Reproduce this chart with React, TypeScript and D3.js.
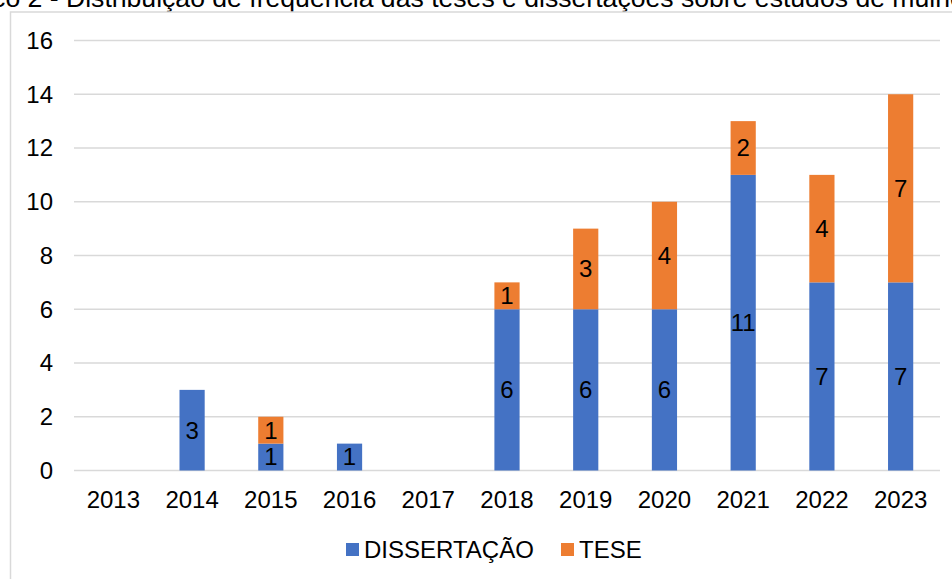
import React from "react";
import * as d3 from "d3";

const years = ["2013", "2014", "2015", "2016", "2017", "2018", "2019", "2020", "2021", "2022", "2023"];
const dissertacao = [0, 3, 1, 1, 0, 6, 6, 6, 11, 7, 7];
const tese = [0, 0, 1, 0, 0, 1, 3, 4, 2, 4, 7];
const seriesNames = ["DISSERTAÇÃO", "TESE"];
const seriesColors = ["#4472C4", "#ED7D31"];
const yTicks = [0, 2, 4, 6, 8, 10, 12, 14, 16];
const titlePrefix = "Gráfico 2 -";
const titleMain = "Distribuição de frequência das teses e dissertações sobre estudos de mulheres";

export default function App() {
  const W = 952, H = 579;
  const x = d3.scaleBand().domain(years).range([74, 940]).paddingInner(0.68).paddingOuter(0.34);
  const y = d3.scaleLinear().domain([0, 16]).range([470.5, 40.5]);
  const rows = years.map((yr, i) => ({ yr, DISSERTAÇÃO: dissertacao[i], TESE: tese[i] }));
  const stack = d3.stack<any>().keys(seriesNames)(rows);
  const font = "'Liberation Sans', Arial, sans-serif";
  const fs = 24;
  return (
    <svg width={W} height={H} style={{ position: "fixed", left: 0, top: 0, background: "#fff" }} fontFamily={font}>
      <rect x={0} y={0} width={W} height={H} fill="#fff" />
      <text x={58.6} y={7} fontSize={26.6} textAnchor="end" fill="#000">{titlePrefix}</text>
      <text x={66} y={7} fontSize={26.6} fill="#000">{titleMain}</text>
      <rect x={10.5} y={12} width={1000} height={700} fill="none" stroke="#d9d9d9" strokeWidth={1.5} />
      {yTicks.map(t => (
        <g key={t}>
          <line x1={74} x2={940} y1={y(t)} y2={y(t)} stroke="#d9d9d9" strokeWidth={1.5} />
          <text x={53} y={y(t)} dy="0.35em" textAnchor="end" fontSize={fs} fill="#000">{t}</text>
        </g>
      ))}
      {stack.map((s, si) => (
        <g key={s.key}>
          {s.map((d, i) => {
            const v = d[1] - d[0];
            if (v <= 0) return null;
            const bx = x(years[i])!;
            return (
              <g key={i}>
                <rect x={bx} y={y(d[1])} width={x.bandwidth()} height={y(d[0]) - y(d[1])} fill={seriesColors[si]} />
                <text x={bx + x.bandwidth() / 2} y={(y(d[0]) + y(d[1])) / 2} dy="0.35em" textAnchor="middle" fontSize={fs} fill="#000">{v}</text>
              </g>
            );
          })}
        </g>
      ))}
      {years.map(yr => (
        <text key={yr} x={x(yr)! + x.bandwidth() / 2} y={500} dy="0.35em" textAnchor="middle" fontSize={fs} fill="#000">{yr}</text>
      ))}
      <g>
        <rect x={346} y={543} width={13} height={13} fill={seriesColors[0]} />
        <text x={364} y={549.5} dy="0.35em" fontSize={fs} fill="#000">{seriesNames[0]}</text>
        <rect x={561} y={543} width={13} height={13} fill={seriesColors[1]} />
        <text x={579} y={549.5} dy="0.35em" fontSize={fs} fill="#000">{seriesNames[1]}</text>
      </g>
    </svg>
  );
}
